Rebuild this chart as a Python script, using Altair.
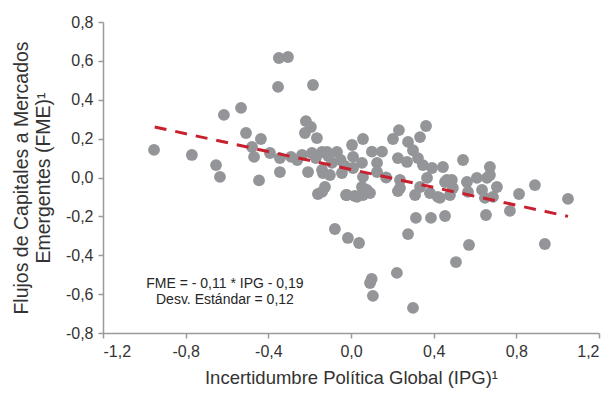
import altair as alt
import pandas as pd

# Scatter points: IPG (x) and FME (y)
ipg = [-0.953, -0.770, -0.653, -0.634, -0.615, -0.532, -0.508, -0.479, -0.469, -0.436,
       -0.392, -0.445, -0.353, -0.349, -0.305, -0.344, -0.344, -0.290, -0.237, -0.218,
       -0.194, -0.223, -0.165, -0.184, -0.189, -0.140, -0.208, -0.136, -0.126, -0.160,
       -0.116, -0.068, -0.092, -0.140, -0.044, -0.102, -0.024, -0.140, -0.078, -0.015,
       0.039, -0.260, -0.170, -0.110, -0.050, -0.030,
       0.005, 0.058, 0.010, 0.053, 0.010, 0.058, 0.053, -0.020, 0.019, 0.077,
       0.101, 0.150, 0.126, 0.126, 0.203, 0.232, 0.276, 0.334, 0.363, 0.227,
       0.271, 0.324, 0.348, 0.392, 0.445, 0.237, 0.237, 0.368, 0.334, 0.310,
       0.382, 0.420, 0.464, 0.100, 0.092, 0.106, 0.222, 0.300, 0.276, 0.314,
       0.387, 0.455, 0.508, 0.571, 0.653, 0.769, 0.813, 0.890, 1.050, 0.938,
       0.542, 0.488, 0.455, 0.493, 0.479, 0.430, 0.561, 0.566, 0.609, 0.672,
       0.672, 0.658, 0.706, 0.634, 0.648, 0.687, 0.029, 0.058, 0.092, 0.227,
       0.300, 0.170]
fme = [0.142, 0.116, 0.064, 0.003, 0.322, 0.358, 0.229, 0.157, 0.106, 0.198,
       0.126, -0.015, 0.466, 0.615, 0.620, 0.100, 0.028, 0.106, 0.116, 0.290,
       0.260, 0.229, 0.203, 0.476, 0.126, 0.131, 0.028, 0.023, -0.049, -0.085,
       0.131, 0.131, 0.075, 0.039, 0.023, 0.013, -0.090, -0.074, -0.265, -0.311,
       -0.337, 0.090, 0.100, 0.110, 0.090, 0.060,
       0.167, 0.198, 0.106, 0.075, 0.049, 0.003, -0.049, -0.090, -0.095, -0.064,
       0.133, 0.133, 0.075, 0.028, 0.198, 0.244, 0.183, 0.208, 0.265, 0.100,
       0.080, 0.100, 0.064, 0.049, 0.054, -0.013, -0.054, -0.002, -0.049, -0.090,
       -0.080, -0.100, -0.013, -0.522, -0.543, -0.609, -0.491, -0.671, -0.291, -0.208,
       -0.208, -0.198, -0.435, -0.347, -0.193, -0.172, -0.085, -0.039, -0.110, -0.342,
       0.090, -0.013, -0.023, -0.054, -0.090, -0.105, -0.023, -0.074, -0.002, 0.054,
       0.013, -0.002, -0.049, -0.064, -0.105, -0.100, -0.100, -0.090, -0.080, -0.070,
       0.140, 0.000]

# Linear trend (endpoints as drawn)
trend_ipg = [-0.95, 1.05]
trend_fme = [0.26, -0.20]

x_ticks = [-1.2, -0.8, -0.4, 0.0, 0.4, 0.8, 1.2]
y_ticks = [-0.8, -0.6, -0.4, -0.2, 0.0, 0.2, 0.4, 0.6, 0.8]
note_lines = ["FME = - 0,11 * IPG - 0,19", "Desv. Estándar = 0,12"]
note_pos = [-0.61, -0.548]

FONT = "Liberation Sans"
label_expr = "(datum.value < -1e-9 ? '-' : '') + replace(format(abs(datum.value), '.1f'), '.', ',')"

pts = pd.DataFrame({"ipg": ipg, "fme": fme})
trend_df = pd.DataFrame({"ipg": trend_ipg, "fme": trend_fme})
note_df = pd.DataFrame({"ipg": [note_pos[0]], "fme": [note_pos[1]]})

xscale = alt.Scale(domain=[-1.2, 1.2], nice=False, zero=False)
yscale = alt.Scale(domain=[-0.8, 0.8], nice=False, zero=False)

xaxis = alt.Axis(values=x_ticks, labelExpr=label_expr, grid=False, labelOverlap=False,
                 title="Incertidumbre Política Global (IPG)¹",
                 labelFontSize=16, titleFontSize=18.5, labelPadding=5, titlePadding=9,
                 tickSize=5)
yaxis = alt.Axis(values=y_ticks, labelExpr=label_expr, grid=False, labelOverlap=False,
                 tickCount=9, labelBound=False, labelFlush=False,
                 title=["Flujos de Capitales a Mercados", "Emergentes (FME)¹"],
                 labelFontSize=16, titleFontSize=19.5, labelPadding=5, titlePadding=12,
                 tickSize=5, titleLineHeight=22)

X = alt.X("ipg:Q", scale=xscale, axis=xaxis)
Y = alt.Y("fme:Q", scale=yscale, axis=yaxis)

points = alt.Chart(pts).mark_circle(size=140, color="#939598", opacity=1).encode(x=X, y=Y)

trend = alt.Chart(trend_df).mark_line(color="#C8202F", strokeWidth=3, strokeDash=[12, 9]).encode(x=X, y=Y)

note = alt.Chart(note_df).mark_text(
    text=note_lines, fontSize=14, lineHeight=16, align="center", baseline="middle",
    font=FONT, color="#262626"
).encode(x=X, y=Y)

chart = alt.layer(points, trend, note).properties(
    width=496, height=311,
    autosize=alt.AutoSizeParams(type="none"),
    padding={"left": 103, "top": 22, "right": 14, "bottom": 62},
).configure_view(stroke=None).configure_axis(
    domainColor="#9A9A9A", tickColor="#9A9A9A", domainWidth=1.5, tickWidth=1.5,
    labelColor="#333333", titleColor="#333333", labelFont=FONT, titleFont=FONT,
    titleFontWeight="normal", labelOverlap=False,
)

chart.save("out.html", embed_options={"renderer": "svg", "actions": False})
